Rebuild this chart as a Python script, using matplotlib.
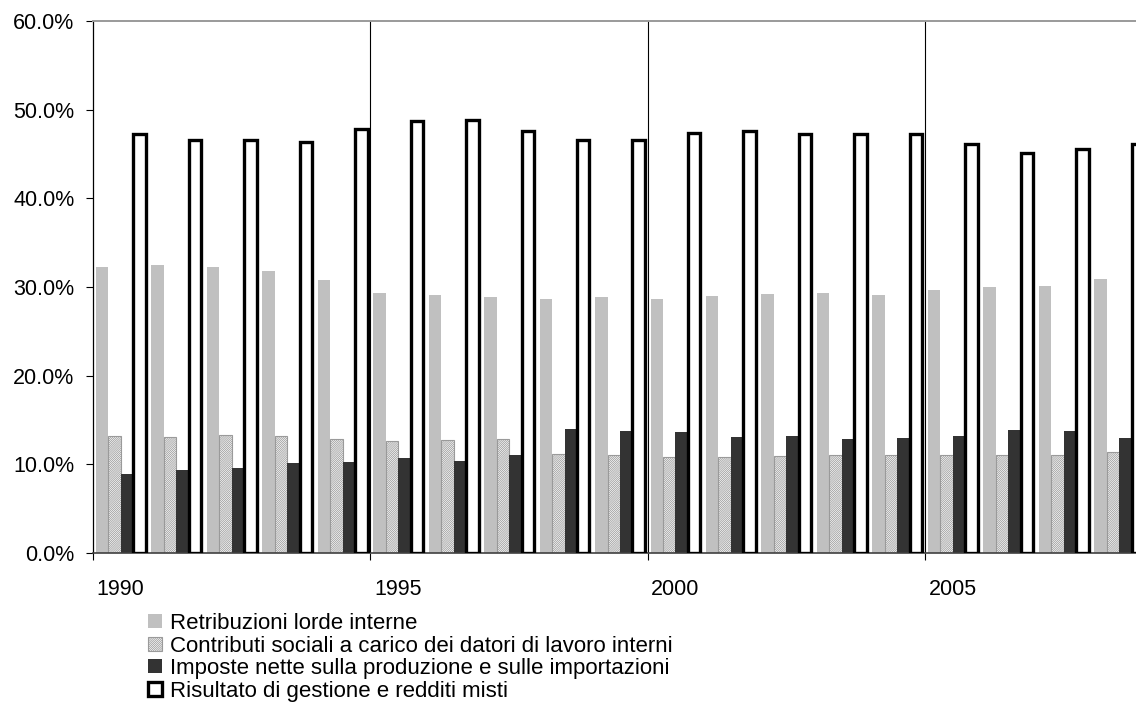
import matplotlib

matplotlib.use("Agg")
import matplotlib.pyplot as plt
import numpy as np
from matplotlib.ticker import FixedLocator, FuncFormatter, NullFormatter

years = list(range(1990, 2009))
series_labels = [
    "Retribuzioni lorde interne",
    "Contributi sociali a carico dei datori di lavoro interni",
    "Imposte nette sulla produzione e sulle importazioni",
    "Risultato di gestione e redditi misti",
]
retribuzioni = [32.2, 32.5, 32.2, 31.8, 30.8, 29.3, 29.1, 28.85, 28.7, 28.85,
                28.6, 29.0, 29.2, 29.3, 29.1, 29.65, 30.0, 30.1, 30.9]
contributi = [13.2, 13.1, 13.3, 13.2, 12.9, 12.6, 12.8, 12.9, 11.2, 11.1,
              10.8, 10.8, 10.9, 11.1, 11.0, 11.1, 11.05, 11.0, 11.35]
imposte = [8.9, 9.35, 9.6, 10.1, 10.3, 10.7, 10.4, 11.05, 14.0, 13.75,
           13.7, 13.1, 13.2, 12.85, 12.95, 13.2, 13.85, 13.75, 12.95]
risultato = [47.2, 46.6, 46.6, 46.4, 47.8, 48.7, 48.8, 47.6, 46.6, 46.6,
             47.4, 47.6, 47.3, 47.3, 47.3, 46.1, 45.1, 45.6, 46.1]
y_ticks = [0, 10, 20, 30, 40, 50, 60]

plt.rcParams["font.family"] = ["Liberation Sans", "DejaVu Sans"]
plt.rcParams["hatch.color"] = "#7a7a7a"
plt.rcParams["hatch.linewidth"] = 0.55

fig = plt.figure(figsize=(11.36, 7.11), dpi=100)
# plot area runs slightly past the right edge of the canvas
ax = fig.add_axes([93 / 1136, 1 - 553 / 711, 1054 / 1136, 532 / 711])

x = np.arange(len(years))
w = 0.225
ax.bar(x - 1.5 * w, retribuzioni, w, color="#c0c0c0", linewidth=0, label=series_labels[0], zorder=2)
ax.bar(x - 0.5 * w, contributi, w, color="white", edgecolor="#9a9a9a", linewidth=0.8,
       hatch="/" * 16, label=series_labels[1], zorder=2)
ax.bar(x + 0.5 * w, imposte, w, color="#333333", linewidth=0, label=series_labels[2], zorder=2)
ax.bar(x + 1.5 * w, risultato, w, color="white", edgecolor="black", linewidth=2.4,
       label=series_labels[3], zorder=3)

ax.set_xlim(-0.5, len(years) - 0.5)
ax.set_ylim(0, 60)

# group separators every five years
for xb in (4.5, 9.5, 14.5):
    ax.axvline(xb, color="black", linewidth=0.8, zorder=1)

ax.xaxis.set_major_locator(FixedLocator([-0.5, 4.5, 9.5, 14.5]))
ax.xaxis.set_major_formatter(NullFormatter())
ax.xaxis.set_minor_locator(FixedLocator([0, 5, 10, 15]))
ax.xaxis.set_minor_formatter(FuncFormatter(lambda v, _: str(years[int(round(v))])))
ax.tick_params(axis="x", which="major", direction="out", length=5, width=0.8, color="black")
ax.tick_params(axis="x", which="minor", length=0, pad=19, labelsize=15.5)

ax.set_yticks(y_ticks)
ax.yaxis.set_major_formatter(FuncFormatter(lambda v, _: f"{v:.1f}%"))
ax.tick_params(axis="y", direction="out", length=5, width=0.8, labelsize=15.5, pad=8.5)

ax.spines["left"].set_color("black")
ax.spines["left"].set_linewidth(0.9)
ax.spines["bottom"].set_color("#404040")
ax.spines["bottom"].set_linewidth(1.2)
ax.spines["top"].set_color("#9a9a9a")
ax.spines["top"].set_linewidth(1.4)
ax.spines["right"].set_visible(False)

fig.legend(loc="upper left", bbox_to_anchor=(148 / 1136, 1 - 613 / 711), frameon=False,
           fontsize=16, handlelength=0.62, handleheight=0.62, handletextpad=0.35,
           labelspacing=0.07, borderpad=0, borderaxespad=0)

fig.savefig("out.png", dpi=100)
